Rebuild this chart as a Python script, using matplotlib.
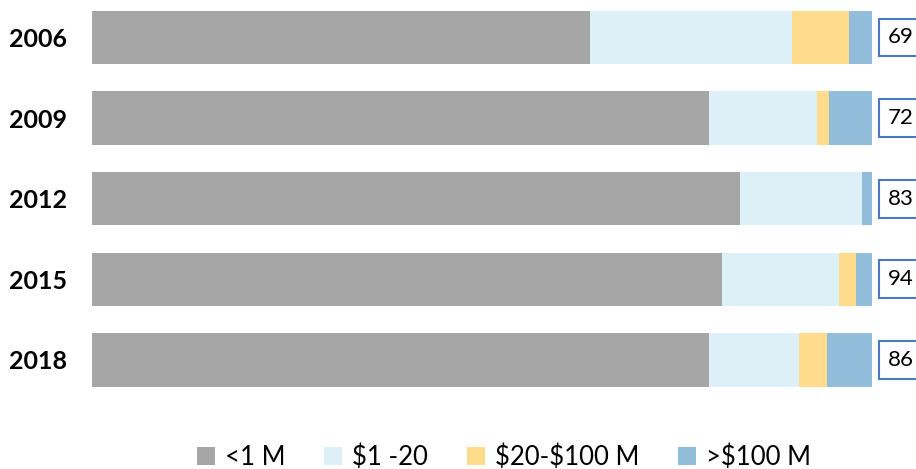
import numpy as np
import matplotlib.pyplot as plt

years = ['2006', '2009', '2012', '2015', '2018']
totals = [69, 72, 83, 94, 86]

# share of each size class (percent of bar length)
under_1m = [63.8, 79.1, 83.1, 80.8, 79.1]
m1_20 = [26.0, 13.9, 15.6, 15.0, 11.6]
m20_100 = [7.2, 1.5, 0.0, 2.2, 3.5]
over_100m = [3.0, 5.5, 1.3, 2.0, 5.8]

labels = ['<1 M', r'\$1 -20', r'\$20-\$100 M', r'>\$100 M']
colors = ['#a6a6a6', '#def0f7', '#ffdc8c', '#91bddb']

plt.rcParams['font.family'] = ['Lato', 'DejaVu Sans']

fig = plt.figure(figsize=(9.16, 4.69), dpi=100)
# axes spans x 92..872 px, y 0..400 px
ax = fig.add_axes([92 / 916, 69 / 469, 780 / 916, 400 / 469])

y = np.arange(len(years))
left = np.zeros(len(years))
for vals, lab, col in zip([under_1m, m1_20, m20_100, over_100m], labels, colors):
    ax.barh(y, vals, left=left, height=0.66, color=col, label=lab)
    left += np.array(vals)

ax.set_xlim(0, 100)
ax.set_ylim(4.497, -0.465)

for i, t in enumerate(totals):
    ax.annotate(str(t), xy=(100, i), xytext=(11.5, 0), textcoords='offset points',
                ha='left', va='center', fontsize=16, annotation_clip=False,
                bbox=dict(boxstyle='square,pad=0.4', fc='white', ec='#4a78c2', lw=1.5))

ax.set_yticks(y)
ax.set_yticklabels(years, fontsize=18, fontweight='bold')
ax.tick_params(axis='y', length=0, pad=18)
ax.set_xticks([])
for s in ax.spines.values():
    s.set_visible(False)

fig.legend(loc='center', bbox_to_anchor=(504 / 916, 1 - 457 / 469), ncol=4,
           frameon=False, fontsize=18.5, handlelength=0.7, handleheight=0.7,
           handletextpad=0.4, columnspacing=1.5)

fig.savefig('out.png', dpi=100)
